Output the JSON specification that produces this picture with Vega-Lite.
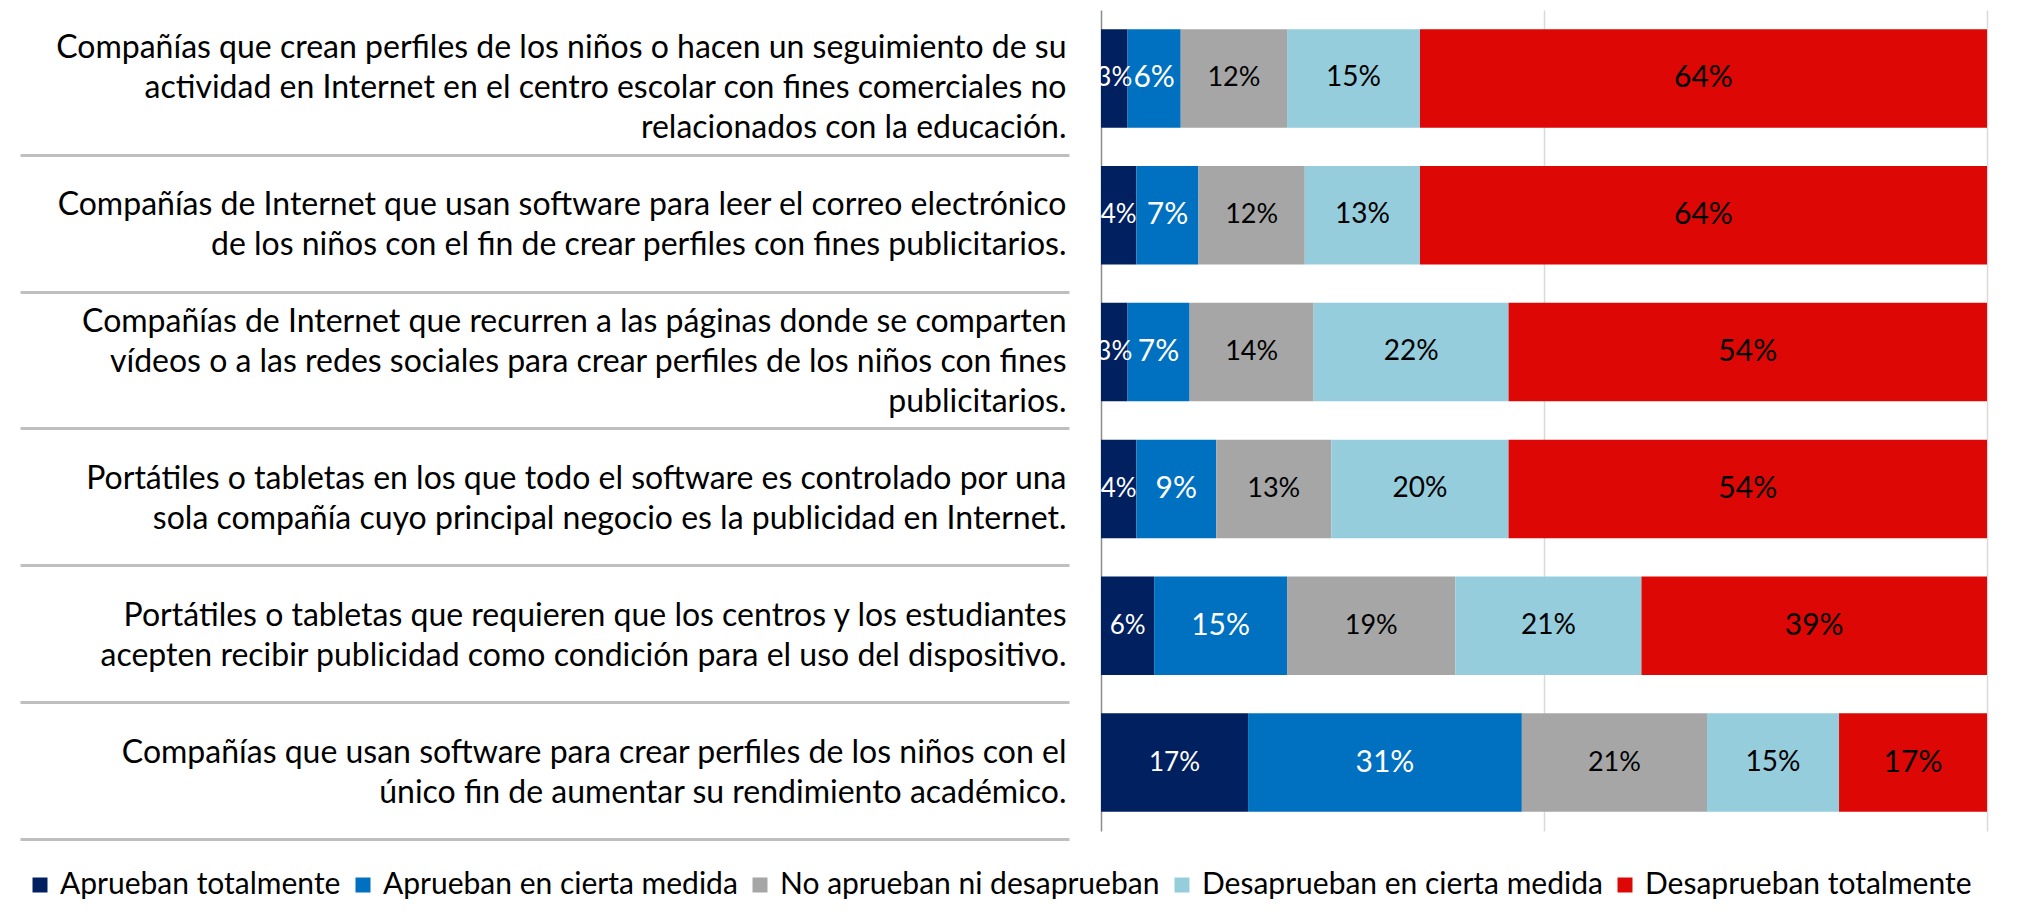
{
  "$schema": "https://vega.github.io/schema/vega-lite/v6.json",
  "autosize": "none",
  "width": 886,
  "height": 821,
  "padding": {"left": 1101, "top": 10, "right": 56, "bottom": 93},
  "background": "white",
  "config": {
    "view": {"stroke": null},
    "font": "Lato",
    "text": {"font": "Lato"}
  },
  "data": {
    "values": [
      {"q": "Compañías que crean perfiles de los niños o hacen un seguimiento de su|actividad en Internet en el centro escolar con fines comerciales no|relacionados con la educación.", "cat": "Aprueban totalmente", "k": 1, "v": 3},
      {"q": "Compañías que crean perfiles de los niños o hacen un seguimiento de su|actividad en Internet en el centro escolar con fines comerciales no|relacionados con la educación.", "cat": "Aprueban en cierta medida", "k": 2, "v": 6},
      {"q": "Compañías que crean perfiles de los niños o hacen un seguimiento de su|actividad en Internet en el centro escolar con fines comerciales no|relacionados con la educación.", "cat": "No aprueban ni desaprueban", "k": 3, "v": 12},
      {"q": "Compañías que crean perfiles de los niños o hacen un seguimiento de su|actividad en Internet en el centro escolar con fines comerciales no|relacionados con la educación.", "cat": "Desaprueban en cierta medida", "k": 4, "v": 15},
      {"q": "Compañías que crean perfiles de los niños o hacen un seguimiento de su|actividad en Internet en el centro escolar con fines comerciales no|relacionados con la educación.", "cat": "Desaprueban totalmente", "k": 5, "v": 64},
      {"q": "Compañías de Internet que usan software para leer el correo electrónico|de los niños con el fin de crear perfiles con fines publicitarios.", "cat": "Aprueban totalmente", "k": 1, "v": 4},
      {"q": "Compañías de Internet que usan software para leer el correo electrónico|de los niños con el fin de crear perfiles con fines publicitarios.", "cat": "Aprueban en cierta medida", "k": 2, "v": 7},
      {"q": "Compañías de Internet que usan software para leer el correo electrónico|de los niños con el fin de crear perfiles con fines publicitarios.", "cat": "No aprueban ni desaprueban", "k": 3, "v": 12},
      {"q": "Compañías de Internet que usan software para leer el correo electrónico|de los niños con el fin de crear perfiles con fines publicitarios.", "cat": "Desaprueban en cierta medida", "k": 4, "v": 13},
      {"q": "Compañías de Internet que usan software para leer el correo electrónico|de los niños con el fin de crear perfiles con fines publicitarios.", "cat": "Desaprueban totalmente", "k": 5, "v": 64},
      {"q": "Compañías de Internet que recurren a las páginas donde se comparten|vídeos o a las redes sociales para crear perfiles de los niños con fines|publicitarios.", "cat": "Aprueban totalmente", "k": 1, "v": 3},
      {"q": "Compañías de Internet que recurren a las páginas donde se comparten|vídeos o a las redes sociales para crear perfiles de los niños con fines|publicitarios.", "cat": "Aprueban en cierta medida", "k": 2, "v": 7},
      {"q": "Compañías de Internet que recurren a las páginas donde se comparten|vídeos o a las redes sociales para crear perfiles de los niños con fines|publicitarios.", "cat": "No aprueban ni desaprueban", "k": 3, "v": 14},
      {"q": "Compañías de Internet que recurren a las páginas donde se comparten|vídeos o a las redes sociales para crear perfiles de los niños con fines|publicitarios.", "cat": "Desaprueban en cierta medida", "k": 4, "v": 22},
      {"q": "Compañías de Internet que recurren a las páginas donde se comparten|vídeos o a las redes sociales para crear perfiles de los niños con fines|publicitarios.", "cat": "Desaprueban totalmente", "k": 5, "v": 54},
      {"q": "Portátiles o tabletas en los que todo el software es controlado por una|sola compañía cuyo principal negocio es la publicidad en Internet.", "cat": "Aprueban totalmente", "k": 1, "v": 4},
      {"q": "Portátiles o tabletas en los que todo el software es controlado por una|sola compañía cuyo principal negocio es la publicidad en Internet.", "cat": "Aprueban en cierta medida", "k": 2, "v": 9},
      {"q": "Portátiles o tabletas en los que todo el software es controlado por una|sola compañía cuyo principal negocio es la publicidad en Internet.", "cat": "No aprueban ni desaprueban", "k": 3, "v": 13},
      {"q": "Portátiles o tabletas en los que todo el software es controlado por una|sola compañía cuyo principal negocio es la publicidad en Internet.", "cat": "Desaprueban en cierta medida", "k": 4, "v": 20},
      {"q": "Portátiles o tabletas en los que todo el software es controlado por una|sola compañía cuyo principal negocio es la publicidad en Internet.", "cat": "Desaprueban totalmente", "k": 5, "v": 54},
      {"q": "Portátiles o tabletas que requieren que los centros y los estudiantes|acepten recibir publicidad como condición para el uso del dispositivo.", "cat": "Aprueban totalmente", "k": 1, "v": 6},
      {"q": "Portátiles o tabletas que requieren que los centros y los estudiantes|acepten recibir publicidad como condición para el uso del dispositivo.", "cat": "Aprueban en cierta medida", "k": 2, "v": 15},
      {"q": "Portátiles o tabletas que requieren que los centros y los estudiantes|acepten recibir publicidad como condición para el uso del dispositivo.", "cat": "No aprueban ni desaprueban", "k": 3, "v": 19},
      {"q": "Portátiles o tabletas que requieren que los centros y los estudiantes|acepten recibir publicidad como condición para el uso del dispositivo.", "cat": "Desaprueban en cierta medida", "k": 4, "v": 21},
      {"q": "Portátiles o tabletas que requieren que los centros y los estudiantes|acepten recibir publicidad como condición para el uso del dispositivo.", "cat": "Desaprueban totalmente", "k": 5, "v": 39},
      {"q": "Compañías que usan software para crear perfiles de los niños con el|único fin de aumentar su rendimiento académico.", "cat": "Aprueban totalmente", "k": 1, "v": 16.6},
      {"q": "Compañías que usan software para crear perfiles de los niños con el|único fin de aumentar su rendimiento académico.", "cat": "Aprueban en cierta medida", "k": 2, "v": 30.9},
      {"q": "Compañías que usan software para crear perfiles de los niños con el|único fin de aumentar su rendimiento académico.", "cat": "No aprueban ni desaprueban", "k": 3, "v": 20.9},
      {"q": "Compañías que usan software para crear perfiles de los niños con el|único fin de aumentar su rendimiento académico.", "cat": "Desaprueban en cierta medida", "k": 4, "v": 14.9},
      {"q": "Compañías que usan software para crear perfiles de los niños con el|único fin de aumentar su rendimiento académico.", "cat": "Desaprueban totalmente", "k": 5, "v": 16.7}
    ]
  },
  "transform": [
    {"stack": "v", "groupby": ["q"], "sort": [{"field": "k", "order": "ascending"}], "as": ["v0", "v1"]},
    {"calculate": "(datum.v0 + datum.v1) / 2", "as": "mid"},
    {"calculate": "format(datum.v, '.0f') + '%'", "as": "lab"}
  ],
  "encoding": {
    "y": {
      "field": "q",
      "type": "nominal",
      "sort": null,
      "scale": {"paddingInner": 0.28, "paddingOuter": 0.14},
      "axis": {
        "title": null,
        "orient": "left",
        "offset": 32,
        "domain": false,
        "grid": false,
        "ticks": true,
        "bandPosition": 1,
        "tickSize": 1049,
        "tickWidth": 3,
        "tickColor": "#bfbfbf",
        "tickOffset": 27,
        "labelOffset": {"condition": {"test": "length(split(datum.label, '|')) > 2", "value": -58}, "value": -37.5},
        "labelPadding": -1046,
        "labelAlign": "right",
        "labelBaseline": "middle",
        "labelLimit": 0,
        "labelFont": "Lato",
        "labelFontSize": 32,
        "labelLineHeight": 40,
        "labelColor": "#000000",
        "labelExpr": "split(datum.label, '|')"
      }
    }
  },
  "layer": [
    {
      "mark": {"type": "bar"},
      "encoding": {
        "x": {
          "field": "v0",
          "type": "quantitative",
          "scale": {"domain": [0, 100], "nice": false, "zero": true},
          "axis": {
            "title": null,
            "orient": "bottom",
            "labels": false,
            "ticks": false,
            "domain": false,
            "grid": true,
            "values": [0, 50, 100],
            "gridWidth": 1.5,
            "gridColor": {"condition": {"test": "datum.value === 0", "value": "#8c8c8c"}, "value": "#d9d9d9"}
          }
        },
        "x2": {"field": "v1"},
        "color": {
          "field": "cat",
          "type": "nominal",
          "scale": {
            "domain": ["Aprueban totalmente", "Aprueban en cierta medida", "No aprueban ni desaprueban", "Desaprueban en cierta medida", "Desaprueban totalmente"],
            "range": ["#002060", "#0070c0", "#a6a6a6", "#95cddd", "#dd0806"]
          },
          "legend": {
            "title": null,
            "orient": "none",
            "direction": "horizontal",
            "legendX": -1076,
            "legendY": 860,
            "symbolType": "square",
            "symbolSize": 225,
            "symbolStrokeWidth": 0,
            "labelFont": "Lato",
            "labelFontSize": 30,
            "labelColor": "#000000",
            "labelOffset": 5,
            "columnPadding": 7,
            "labelLimit": 0
          }
        }
      }
    },
    {
      "mark": {"type": "text", "align": "center", "baseline": "middle", "font": "Lato"},
      "encoding": {
        "x": {"field": "mid", "type": "quantitative"},
        "text": {"field": "lab", "type": "nominal"},
        "size": {
          "condition": [
            {"test": "datum.k === 2 || datum.k === 5", "value": 30},
            {"test": "datum.k === 4", "value": 28},
            {"test": "datum.k === 3", "value": 27}
          ],
          "value": 26
        },
        "color": {"condition": {"test": "datum.k <= 2", "value": "#ffffff"}, "value": "#000000"}
      }
    }
  ]
}
